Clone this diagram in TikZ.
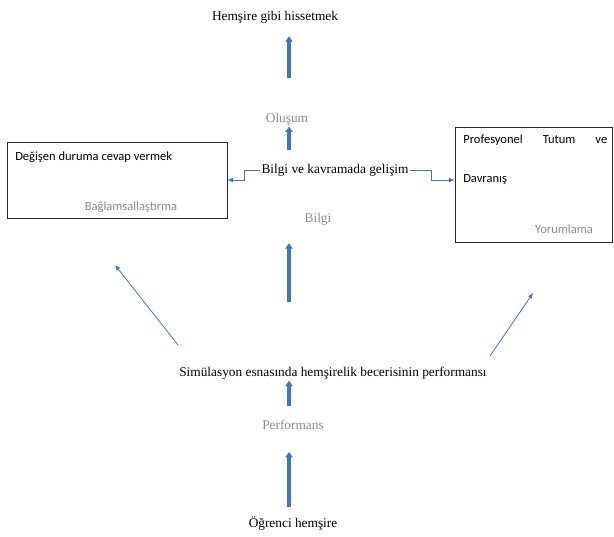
\documentclass[tikz,border=0pt]{standalone}
\usepackage{fontspec}
\setmainfont{Liberation Serif}
\newfontfamily\boxfont{Carlito}
\usetikzlibrary{arrows.meta,calc}
\definecolor{officeblue}{HTML}{4472C4}
\definecolor{labelgray}{HTML}{8C8C8C}

\begin{document}
\begin{tikzpicture}[
    x=0.75pt, y=-0.75pt,
    stage/.style={
        font=\fontsize{10}{12}\selectfont,
        inner sep=1pt
    },
    phase/.style={
        font=\fontsize{10}{12}\selectfont,
        text=labelgray,
        inner sep=1pt
    },
    panel/.style={
        rectangle,
        draw=black!85,
        line width=0.75pt
    },
    boxtext/.style={
        font=\boxfont\fontsize{9.4}{11}\selectfont,
        inner sep=0pt
    },
    flow/.style={
        -{Triangle[length=4pt,width=5.5pt]},
        line width=2.6pt,
        officeblue
    },
    link/.style={
        -{Latex[length=4pt,width=3.5pt]},
        line width=0.6pt,
        officeblue
    }
]
\useasboundingbox (0,0) rectangle (614,536);

% Spine of the vertical arrows
\coordinate (spine) at (289,0);

% Main stages (bottom to top)
\node[stage] (student) at (293,524) {Öğrenci hemşire};
\node[phase] (perfl) at (293,425) {Performans};
\node[stage] (perf) at (333,373) {Simülasyon esnasında hemşirelik becerisinin performansı};
\node[phase] (bilgi) at (318,219) {Bilgi};
\node[stage] (develop) at (335,170) {Bilgi ve kavramada gelişim};
\node[phase] (olusum) at (287,119) {Oluşum};
\node[stage] (feel) at (275,17) {Hemşire gibi hissetmek};

% Side panels
\node[panel, minimum width=165pt, minimum height=57pt] (leftbox) at (117,180) {};
\node[boxtext, anchor=west] (leftttl) at (15,157) {Değişen duruma cevap vermek};
\node[boxtext, text=labelgray] (leftsub) at (131,207) {Bağlamsallaştırma};

\node[panel, minimum width=117.75pt, minimum height=86.25pt] (rightbox) at (533.5,184.5) {};
\node[boxtext, font=\boxfont\fontsize{9.4}{29}\selectfont, text width=108pt, align=left, anchor=north west]
    (rightttl) at (463,135) {Profesyonel\hfill Tutum\hfill ve\\Davranış};
\node[boxtext, text=labelgray] (rightsub) at (564,229) {Yorumlama};

% Vertical flow arrows
\draw[flow, shorten <=6.5pt, shorten >=15.5pt] (spine |- student.north) -- (spine |- perfl.south);
\draw[flow, shorten <=9.5pt] (spine |- perfl.north) -- (spine |- perf.south);
\draw[flow, shorten <=47.7pt, shorten >=12.5pt] (spine |- perf.north) -- (spine |- bilgi.south);
\draw[flow, shorten <=9.5pt] (spine |- develop.north) -- (spine |- olusum.south);
\draw[flow, shorten <=25pt, shorten >=8.8pt] (spine |- olusum.north) -- (spine |- feel.south);

% Elbow links to the panels
\draw[link] (develop.west) -- ++(-16,0) |- (leftbox.east);
\draw[link] (develop.east) -- ++(21,0) |- (rightbox.west |- leftbox.east);

% Diagonal links
\coordinate (lfoot) at (178,345);
\coordinate (ltip) at (115,265);
\coordinate (rfoot) at (490,356);
\coordinate (rtip) at (533,293);
\draw[link] (lfoot) -- (ltip);
\draw[link] (rfoot) -- (rtip);

\end{tikzpicture}
\end{document}
